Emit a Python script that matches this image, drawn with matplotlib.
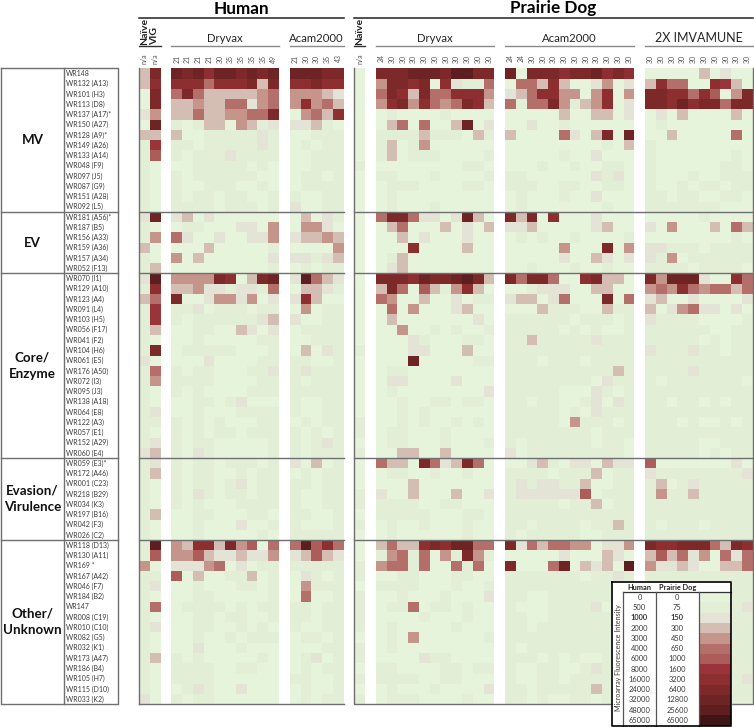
import numpy as np
import matplotlib
matplotlib.use("Agg")
import matplotlib.pyplot as plt
from matplotlib.colors import ListedColormap, BoundaryNorm

plt.rcParams["font.family"] = ["Lato", "DejaVu Sans"]

# ---- data: one hex digit per cell, index into the legend levels ----
groups = [("MV", 14), ("EV", 6), ("Core/\nEnzyme", 18),
          ("Evasion/\nVirulence", 8), ("Other/\nUnknown", 16)]

antigens = [
    "WR148", "WR132 (A13)", "WR101 (H3)", "WR113 (D8)", "WR137 (A17)*", "WR150 (A27)", "WR128 (A9)*",
    "WR149 (A26)", "WR133 (A14)", "WR048 (F9)", "WR097 (J5)", "WR087 (G9)", "WR151 (A28)", "WR092 (L5)",
    "WR181 (A56)*", "WR187 (B5)", "WR156 (A33)", "WR159 (A36)", "WR157 (A34)", "WR052 (F13)",
    "WR070 (I1)", "WR129 (A10)", "WR123 (A4)", "WR091 (L4)", "WR103 (H5)", "WR056 (F17)", "WR041 (F2)",
    "WR104 (H6)", "WR061 (E5)", "WR176 (A50)", "WR072 (I3)", "WR095 (J3)", "WR138 (A18)", "WR064 (E8)",
    "WR122 (A3)", "WR057 (E1)", "WR152 (A29)", "WR060 (E4)",
    "WR059 (E3)*", "WR172 (A46)", "WR001 (C23)", "WR218 (B29)", "WR034 (K3)", "WR197 (B16)", "WR042 (F3)",
    "WR026 (C2)",
    "WR118 (D13)", "WR130 (A11)", "WR169 *", "WR167 (A42)", "WR046 (F7)", "WR184 (B2)", "WR147",
    "WR008 (C19)", "WR010 (C10)", "WR082 (G5)", "WR032 (K1)", "WR173 (A47)", "WR186 (B4)", "WR105 (H7)",
    "WR115 (D10)", "WR033 (K2)",
]

human_ctrl = [
    "39", "38", "09", "09", "24", "0a", "33", "17", "16", "10", "10", "10", "10", "10",
    "2a", "10", "14", "30", "10", "13",
    "2b", "18", "35", "17", "17", "13", "10", "19", "20", "15", "14", "10", "10", "12", "11", "10", "12", "23",
    "12", "13", "10", "10", "10", "13", "10", "10",
    "1b", "16", "40", "11", "12", "10", "15", "10", "12", "10", "10", "13", "10", "10", "10", "20",
]
human_dryvax = [
    "a9a8aa9a9a", "8885888939", "5953333345", "3343355245", "3353344559", "1013304312", "3001111121",
    "1101111121", "1011121111", "0011111010", "1011111100", "1001110010", "1011011001", "1111011101",
    "2302000000", "0110002204", "5200200224", "0003000001", "4030000002", "0000000001",
    "444498039a", "3342212215", "9002442402", "1120111011", "1011111123", "0011003202", "0010000011",
    "0111110001", "0002000011", "1011000112", "1111000011", "1010000111", "0011012000", "0010001111",
    "1010100011", "1010110111", "1011000001", "1021000001",
    "1011011101", "1011001011", "1011012011", "1021011011", "1010001111", "0011000110", "0010002001",
    "0010000010",
    "4388394605", "4463223224", "2224502011", "6030011301", "0010001101", "0011000001", "0111101011",
    "0011011001", "0011001010", "0010010111", "0020001000", "1010000010", "1111001100", "1111000000",
    "0121002000", "1011000000",
]
human_acam = [
    "aaa99", "88988", "44432", "48453", "04538", "22310", "00111", "01011", "00111", "00111", "01101",
    "01111", "10011", "20011",
    "03021", "04420", "23343", "00004", "22123", "01011",
    "2b532", "03321", "28300", "04011", "20011", "01111", "00111", "03021", "11001", "12111", "10111",
    "11111", "10011", "10011", "01011", "10101", "10121", "10111",
    "20301", "01011", "11011", "10011", "10011", "11001", "10001", "11111",
    "5b685", "23632", "11111", "02101", "04111", "05001", "11011", "11011", "10011", "01101", "00011",
    "01201", "01011", "11001", "01001", "01011",
]
pd_ctrl = list(
    "00000000010000"
    "000000"
    "000000010000001101"
    "00011010"
    "0011011110110101"
)
pd_dryvax = [
    "999aaa9bb99", "49989082115", "59839558884", "48948545983", "01000010000", "03505003a02", "11113111031",
    "13014000000", "13011100001", "00000000110", "11000100001", "01110000110", "01000000000", "01000100000",
    "59952202a30", "03500030203", "00302000200", "00080000300", "01300000000", "02300000000",
    "9998a99ab93", "39506314830", "54003002011", "05040002300", "03000000020", "00400101001", "00021000110",
    "00022000300", "000a0000011", "01100000000", "02200002000", "01000000002", "00100110110", "00101000000",
    "00101001010", "01100010000", "01100010001", "00330030000",
    "53309523950", "01100100100", "00030000000", "20030003002", "11110011000", "11111000110", "01001000100",
    "01000000100",
    "3533898aa55", "14515041941", "45515005150", "00110001100", "11110001001", "00100010002", "01150110100",
    "00001000100", "01000001000", "01040000001", "01000000000", "00002110000", "11000011011", "11110011000",
    "01000100002", "01110000100",
]
pd_acam = [
    "a0999899a898", "055383002402", "235884404804", "515594134802", "000003003302", "002001000000",
    "30000520390a", "000000000103", "000001002000", "000100100110", "110000002120", "111001100110",
    "010001002000", "010000000100",
    "939080002000", "223000002300", "010100100001", "000004000904", "000002003202", "001000100100",
    "959950089330", "001222003300", "233025000905", "000311100311", "111111011101", "111110101001",
    "113111112111", "111111111111", "111011101111", "111111111131", "111111110211", "111110002101",
    "110110012021", "111110102111", "111110411101", "111111110111", "101111110110", "201111111110",
    "002310220322", "111101113011", "121221130011", "122222260111", "111110113011", "111111111111",
    "110111101131", "101111100111",
    "925355440224", "000002000320", "90005a03230b", "111111101121", "111111111111", "110011111111",
    "100011112011", "110011111111", "110111111111", "111111111111", "101111111111", "111010100111",
    "100110012111", "100110111111", "110111113111", "110100110111",
]
pd_imv = [
    "0000030200", "3855008730", "9988586049", "998a899599", "0203000030", "0100000000", "0030000050",
    "1000000000", "1000000010", "1000000110", "1000100111", "1001011011", "1101100110", "1111111000",
    "0000010000", "2040003053", "0000000010", "2211101111", "2140111111", "1111011110",
    "94aaa20085", "4548545535", "2300200002", "3024522020", "2111100001", "1111110011", "1111101011",
    "2111211011", "1111111111", "1111211111", "1011111110", "1111111111", "1101101011", "1111111111",
    "1110100101", "1111111111", "1111100111", "1111101011",
    "6000000020", "2111111112", "1301211111", "1411311111", "1111111111", "1111111111", "1011101111",
    "1111111111",
    "9889995398", "3635240525", "4223200335", "1111111111", "1111111111", "1111111111", "1111111112",
    "1111111111", "1111111111", "1111111111", "1111111111", "1111111111", "1111111111", "1111111112",
    "1111111111", "1111111111",
]

days_human_ctrl = ["n/a", "n/a"]
days_human_dryvax = ["21", "21", "21", "21", "30", "35", "35", "35", "35", "49"]
days_human_acam = ["21", "30", "30", "35", "43"]
days_pd_ctrl = ["n/a"]
days_pd_dryvax = ["24"] + ["30"] * 10
days_pd_acam = ["24", "24"] + ["30"] * 10
days_pd_imv = ["30"] * 10

legend_human = ["0", "500", "1000", "2000", "3000", "4000", "6000", "8000", "16000", "24000", "32000", "48000", "65000"]
legend_pd = ["0", "75", "150", "300", "450", "650", "1000", "1600", "3200", "6400", "12800", "25600", "65000"]

# ---- styling ----
LEVEL_COLORS = ["#e7f4dc", "#e3eed6", "#e4e4d6", "#d4bdb2", "#c5958b", "#b56f6a", "#ac5c59",
                "#98343a", "#8d2e30", "#7d2829", "#6e2425", "#5c1e1f", "#3f1415"]
cmap = ListedColormap(LEVEL_COLORS)
norm = BoundaryNorm(np.arange(-0.5, 13.5), cmap.N)

X0 = 139.0       # left edge of the heatmap
CW = 10.767      # cell width
Y0 = 68.3        # top of the heatmap
RH = 10.258      # row height
Y1 = Y0 + RH * len(antigens)
LINE = "#6f6f6f"
TEXT = "#3a3a3a"

fig = plt.figure(figsize=(7.54, 7.27), dpi=100)
ax = fig.add_axes([0, 0, 1, 1])
ax.set_xlim(0, 754)
ax.set_ylim(727, 0)
ax.axis("off")


def draw_panel(rows, days, col):
    """One block of columns starting at grid column col."""
    arr = np.array([[int(c, 16) for c in r] for r in rows])
    xs = X0 + CW * (col + np.arange(arr.shape[1] + 1))
    ys = Y0 + RH * np.arange(arr.shape[0] + 1)
    ax.pcolormesh(xs, ys, arr, cmap=cmap, norm=norm, zorder=1)
    for i, d in enumerate(days):
        ax.text(xs[i] + CW / 2, 58.5, d, rotation=90, ha="center", va="center",
                fontsize=5, color="#555555")


def group_label(text, col0, col1, size=8.2):
    x0, x1 = X0 + CW * col0, X0 + CW * col1
    ax.plot([x0, x1], [46, 46], color="#8a8a8a", lw=1.0, zorder=2)
    ax.text((x0 + x1) / 2, 38.5, text, ha="center", va="center", fontsize=size, color="#262626")


# panels, on a common column grid with one empty column between blocks
draw_panel(human_ctrl, days_human_ctrl, 0)
draw_panel(human_dryvax, days_human_dryvax, 3)
draw_panel(human_acam, days_human_acam, 14)
draw_panel(pd_ctrl, days_pd_ctrl, 20)
draw_panel(pd_dryvax, days_pd_dryvax, 22)
draw_panel(pd_acam, days_pd_acam, 34)
draw_panel(pd_imv, days_pd_imv, 47)

group_label("Dryvax", 3, 13)
group_label("Acam2000", 14, 19)
group_label("Dryvax", 22, 33)
group_label("Acam2000", 34, 46)
group_label("2X IMVAMUNE", 47, 57, size=9.0)

# species headers
ax.text(241.5, 8.5, "Human", ha="center", va="center", fontsize=12.3, fontweight="bold", color="black")
ax.text(553.5, 8.5, "Prairie Dog", ha="center", va="center", fontsize=12.3, fontweight="bold", color="black")
ax.plot([139, 343.5], [17.5, 17.5], color="#222222", lw=1.1)
ax.plot([354, 753], [17.5, 17.5], color="#222222", lw=1.1)

# naive / VIG headers
ax.text(144.5, 45, "Naïve", rotation=90, ha="center", va="bottom", fontsize=7.5, fontweight="bold", color="#222222")
ax.text(155, 45, "VIG", rotation=90, ha="center", va="bottom", fontsize=7.5, fontweight="bold", color="#222222")
ax.text(359.5, 45, "Naïve", rotation=90, ha="center", va="bottom", fontsize=7.5, fontweight="bold", color="#222222")
ax.plot([139, 160.5], [46, 46], color="#333333", lw=1.0)
ax.plot([354, 365], [46, 46], color="#333333", lw=1.0)

# left table and group separators
ax.plot([0.5, 117.5, 117.5, 0.5, 0.5], [Y0, Y0, Y1, Y1, Y0], color=LINE, lw=1.0, zorder=3)
ax.plot([64.2, 64.2], [Y0, Y1], color=LINE, lw=1.0, zorder=3)
for i, name in enumerate(antigens):
    ax.text(66, Y0 + RH * (i + 0.5), name, ha="left", va="center", fontsize=5.0, color=TEXT)

pos = 0
for name, n in groups:
    mid = Y0 + RH * (pos + n / 2)
    ax.text(32.5, mid, name, ha="center", va="center", fontsize=9.6, fontweight="bold",
            color="#111111", linespacing=1.45)
    pos += n
    if pos < len(antigens):
        y = Y0 + RH * pos
        ax.plot([0.5, 117.5], [y, y], color=LINE, lw=1.0, zorder=3)
        ax.plot([139, 343.5], [y, y], color=LINE, lw=1.0, zorder=3)
        ax.plot([354, 752.7], [y, y], color=LINE, lw=1.0, zorder=3)

# heatmap borders
ax.plot([139, 139], [Y0, Y1], color=LINE, lw=1.0, zorder=3)
ax.plot([139, 343.5], [Y1, Y1], color=LINE, lw=1.0, zorder=3)
ax.plot([354, 354, 752.7, 752.7], [Y0, Y1, Y1, Y0], color=LINE, lw=1.0, zorder=3)

# legend table
LX0, LX1, LX2, LX3, LX4 = 612.3, 623.3, 655.7, 699.0, 731.0
LY0, LY1, LY2 = 581.8, 592.2, 725.6
lrow = (LY2 - LY1) / len(legend_human)
ax.fill([LX0, LX4, LX4, LX0], [LY0, LY0, LY2, LY2], color="white", zorder=5)
ax.pcolormesh([LX3, LX4], LY1 + lrow * np.arange(14), np.arange(13).reshape(-1, 1),
              cmap=cmap, norm=norm, zorder=6)
for i, (h, p) in enumerate(zip(legend_human, legend_pd)):
    y = LY1 + lrow * (i + 0.5)
    w = "bold" if h == "1000" else "normal"
    ax.text((LX1 + LX2) / 2, y, h, ha="center", va="center", fontsize=5.4, fontweight=w, color=TEXT, zorder=7)
    ax.text((LX2 + LX3) / 2, y, p, ha="center", va="center", fontsize=5.4, fontweight=w, color=TEXT, zorder=7)
ax.text((LX1 + LX2) / 2, 587.3, "Human", ha="center", va="center", fontsize=5.3, fontweight="bold", color="#222222", zorder=7)
ax.text((LX2 + LX3) / 2, 587.3, "Prairie Dog", ha="center", va="center", fontsize=5.3, fontweight="bold", color="#222222", zorder=7)
ax.text(618.3, 658, "Microarray Fluorescence Intensity", rotation=90, ha="center", va="center",
        fontsize=5.1, color=TEXT, zorder=7)
ax.plot([LX1, LX4], [LY1, LY1], color="#333333", lw=0.9, zorder=7)
ax.plot([LX1, LX1], [LY1, LY2], color="#555555", lw=0.9, zorder=7)
ax.plot([LX2, LX2], [LY1, LY2], color="#555555", lw=0.9, zorder=7)
ax.plot([LX3, LX3], [LY1, LY2], color="#555555", lw=0.9, zorder=7)
ax.plot([LX0, LX4, LX4, LX0, LX0], [LY0, LY0, LY2, LY2, LY0], color="black", lw=1.2, zorder=8)

fig.savefig("out.png", dpi=100)
